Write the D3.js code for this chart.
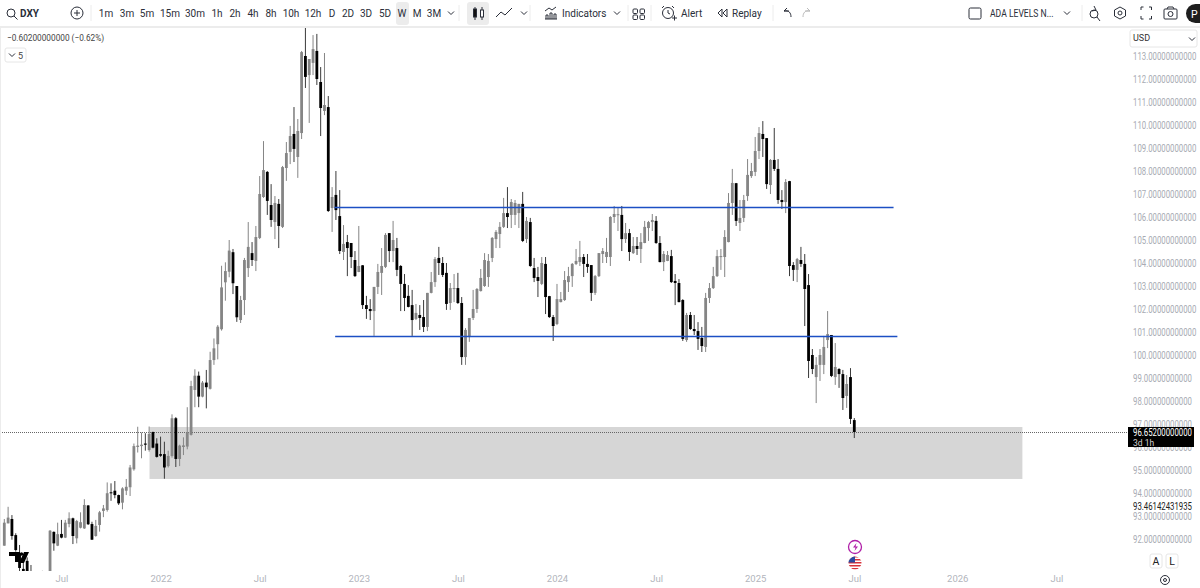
<!DOCTYPE html>
<html><head><meta charset="utf-8">
<script src="https://cdn.jsdelivr.net/npm/d3@7"></script>
<style>html,body{margin:0;padding:0;background:#fff;overflow:hidden}svg{display:block}text{font-family:Roboto,"Noto Sans",sans-serif}</style>
</head><body><div id="c"></div>
<script>
const opens=[91.71,92.68,92.87,92.17,91.39,90.70,91.05,90.40,90.00,89.80,89.90,90.00,90.10,92.31,91.71,92.22,92.06,92.65,92.90,92.03,92.49,92.46,93.46,92.65,92.13,92.61,93.22,93.26,94.03,94.10,93.91,93.58,94.10,94.25,95.03,96.00,96.04,96.15,95.87,96.65,96.15,95.69,95.69,95.17,95.61,97.25,95.48,96.00,96.02,96.53,98.48,99.10,98.19,98.80,98.53,99.78,100.47,101.12,103.16,103.62,104.47,103.00,101.52,102.39,103.78,104.43,104.09,105.09,106.87,107.96,106.52,105.78,106.57,105.57,108.13,108.83,109.61,108.61,109.65,113.00,112.17,112.70,113.22,111.87,110.61,110.78,106.39,106.96,106.04,104.48,104.91,104.87,104.13,103.61,103.90,102.17,102.00,101.91,102.96,103.57,103.83,105.30,104.52,104.65,103.87,103.09,102.57,102.17,101.57,101.74,101.65,101.22,102.70,103.17,104.22,104.00,103.57,102.26,102.87,102.91,102.26,99.91,100.78,101.61,102.00,102.78,103.00,103.39,104.22,105.04,105.26,105.57,106.17,106.09,106.09,106.17,106.57,105.04,105.78,103.78,103.39,103.09,103.96,102.56,101.65,101.35,102.30,102.39,103.17,103.43,103.96,104.04,104.26,103.96,103.91,102.70,103.43,104.39,104.26,104.26,106.00,106.08,106.09,105.04,105.30,104.43,104.74,104.61,104.87,105.52,105.78,105.83,104.87,104.04,104.09,104.30,103.22,103.13,102.39,100.65,101.74,101.13,101.04,100.74,100.35,102.48,102.91,103.43,104.26,104.26,104.91,106.61,107.47,105.74,105.96,106.91,107.78,107.96,108.87,109.61,109.43,107.39,108.48,108.09,106.74,106.65,107.56,103.91,103.70,104.13,103.96,103.04,100.00,99.04,99.57,99.57,100.65,100.87,99.04,99.39,99.17,98.22,99.04,97.17];
const highs=[92.87,93.40,93.04,92.25,91.74,91.01,91.20,90.87,90.40,90.30,90.62,90.40,92.39,92.33,92.71,92.83,92.83,93.16,92.93,92.83,93.16,93.73,93.47,92.75,92.83,93.22,93.48,94.46,94.42,94.52,93.93,94.25,94.61,95.22,96.15,96.88,96.63,96.60,96.89,96.67,96.38,96.45,96.23,95.84,97.42,97.30,96.10,96.42,97.73,98.88,99.38,99.28,98.87,99.35,100.14,100.72,101.30,103.88,104.03,105.00,104.61,103.00,102.57,104.22,105.78,104.91,105.61,107.78,109.30,108.00,107.43,106.91,106.78,108.22,109.26,109.96,110.78,110.26,113.22,114.26,112.87,113.91,113.96,112.52,113.13,111.26,107.30,108.00,107.17,105.65,105.22,104.87,104.52,105.61,103.91,102.57,102.43,102.96,103.96,104.65,105.30,105.30,105.83,105.09,103.91,103.52,103.04,102.83,102.22,102.17,102.39,102.70,103.61,104.26,104.70,104.26,104.00,103.13,103.52,103.57,102.52,101.17,101.61,102.83,102.91,103.74,104.43,104.39,105.13,105.43,105.78,106.83,107.30,106.78,106.74,106.57,107.09,106.00,105.96,104.22,103.83,104.26,104.26,102.57,101.74,103.09,102.74,103.65,103.83,104.00,104.61,104.96,104.39,104.39,103.91,103.48,104.43,104.65,105.09,106.04,106.48,106.39,106.48,105.74,105.48,105.13,105.13,105.30,105.83,105.83,106.13,106.04,105.17,104.52,104.52,104.57,103.52,103.30,102.43,101.83,101.87,101.74,101.43,101.22,102.70,103.13,103.83,104.57,104.61,105.43,107.04,108.09,107.48,106.74,106.96,108.52,108.35,109.48,109.91,110.17,109.43,108.52,109.87,108.52,107.17,107.65,107.57,104.04,104.22,104.70,104.39,103.52,100.26,99.91,100.26,100.83,101.91,100.87,100.52,99.43,99.35,99.13,99.43,97.26];
const lows=[91.71,92.68,91.97,91.45,90.57,90.20,90.10,89.90,89.50,89.20,89.40,89.30,89.80,91.49,91.69,92.03,92.04,92.51,91.78,91.81,92.46,92.44,92.61,91.96,92.10,92.32,92.95,93.19,93.66,93.77,93.48,93.29,93.91,93.87,94.97,95.76,95.51,95.84,95.80,95.94,95.54,95.57,94.62,95.11,95.54,95.13,95.17,95.65,95.90,96.50,97.73,97.73,98.16,97.68,98.50,99.57,99.81,101.06,102.36,103.38,102.65,101.44,101.39,101.74,103.39,103.87,103.65,105.04,106.83,106.09,105.57,105.04,104.65,105.52,107.57,108.30,108.39,107.70,109.39,111.61,110.09,112.17,111.74,109.52,110.43,106.22,105.35,105.87,104.39,104.13,103.43,103.78,103.39,103.60,102.00,101.57,101.52,100.83,102.65,102.61,103.78,104.04,104.04,103.43,101.91,101.91,102.07,100.83,101.52,101.09,101.00,101.04,102.68,102.96,103.48,103.39,101.96,101.96,102.30,102.22,99.57,99.57,100.57,101.52,101.83,102.76,102.96,102.96,104.04,104.65,104.65,105.52,105.52,105.52,105.65,105.52,104.91,104.87,103.83,103.17,102.52,103.04,101.78,101.61,100.61,101.30,102.29,102.35,102.74,102.96,103.91,103.87,103.39,103.57,102.35,102.61,103.39,104.00,104.00,103.87,105.74,105.39,104.52,104.87,104.09,104.39,104.35,104.00,104.86,104.96,105.39,104.83,104.03,103.65,104.08,103.13,102.17,102.29,100.61,100.57,101.09,100.87,100.22,100.13,100.13,102.26,102.87,103.39,103.70,103.39,104.90,106.09,105.61,105.39,105.78,106.70,107.70,107.78,108.52,108.61,107.22,107.00,108.00,106.57,106.35,106.17,103.43,103.22,103.17,103.83,101.26,99.00,99.17,97.91,98.87,99.17,100.30,99.04,98.70,98.57,97.61,97.70,97.00,96.39];
const closes=[92.71,92.93,92.13,91.52,90.74,90.40,90.30,90.10,89.80,89.60,90.10,89.60,92.36,91.81,92.21,92.06,92.71,92.90,92.13,92.78,92.73,93.48,92.64,91.97,92.57,93.16,93.33,93.99,93.99,93.91,93.55,94.20,94.27,95.11,96.04,96.06,96.10,96.10,96.57,95.97,95.57,95.62,95.11,95.61,97.25,95.48,96.06,96.07,96.63,98.65,99.10,98.19,98.80,98.60,99.78,100.29,101.23,102.94,103.65,104.54,103.12,101.64,102.39,104.13,104.70,104.13,105.13,107.00,108.04,106.70,105.87,106.61,105.61,108.17,108.78,109.52,108.96,109.74,113.17,112.09,112.87,113.30,112.00,110.74,110.87,106.26,106.87,106.30,104.52,104.83,104.65,104.26,103.43,103.87,102.17,102.00,101.91,102.96,103.61,103.87,105.22,104.52,105.00,103.70,103.09,102.48,102.09,101.52,101.83,101.61,101.22,102.70,103.17,104.17,104.00,103.48,102.22,102.91,102.91,102.26,99.91,101.09,101.61,102.00,102.87,103.35,104.13,104.09,105.09,105.35,105.57,106.17,106.00,106.65,106.61,106.57,104.96,105.83,103.87,103.35,103.22,104.00,102.52,101.65,101.26,102.43,102.43,103.26,103.43,103.96,104.09,104.26,103.96,103.83,102.70,103.43,104.43,104.52,104.48,106.00,106.13,106.12,105.04,105.30,104.48,104.74,104.61,104.91,105.57,105.78,105.87,104.87,104.04,104.39,104.35,103.17,103.13,102.30,100.70,101.74,101.13,101.04,100.70,100.39,102.48,102.91,103.43,104.30,104.30,105.13,106.61,107.48,105.83,105.96,106.74,107.83,108.00,108.87,109.65,109.39,107.43,108.48,108.09,106.74,106.65,107.52,103.87,103.70,104.17,103.96,102.87,99.74,99.39,99.57,100.00,100.35,100.91,99.09,99.48,99.17,98.13,98.74,97.22,96.652];
const priceTicks=[113,112,111,110,109,108,107,106,105,104,103,102,101,100,99,98,97,96,95,94,93,92];
const timeWeeks=[15,41,67,93,119,145,171,197,223,250,276];
const timeLabels=["Jul","2022","Jul","2023","Jul","2024","Jul","2025","Jul","2026","Jul"];
const zoneTop=96.87, zoneBottom=94.61, zoneStartWeek=38.1, zoneEndWeek=267.1;
const levelLines=[{v:106.41,a:86.6,b:233.3},{v:100.80,a:86.8,b:234.3}];
const lastPrice=96.652, magnet=93.46142431935;
const intervals=[["1m",106],["3m",127],["5m",147],["15m",170],["30m",195],["1h",217],["2h",235],["4h",253],["8h",271],["10h",291],["12h",313],["D",332],["2D",348],["3D",366],["5D",385],["W",402],["M",417],["3M",434]];

const W=1200,H=588,paneR=1128,paneT=28,paneB=571;
const x=d3.scaleLinear().domain([0,223]).range([4.3,854.3]);
const y=d3.scaleLinear().domain([113,92]).range([56,539]);
const svg=d3.select("#c").append("svg").attr("width",W).attr("height",H);
svg.append("defs").append("clipPath").attr("id","pane").append("rect").attr("x",0).attr("y",paneT).attr("width",paneR).attr("height",paneB-paneT);
const pane=svg.append("g").attr("clip-path","url(#pane)");
pane.append("rect").attr("x",x(zoneStartWeek)).attr("width",x(zoneEndWeek)-x(zoneStartWeek)).attr("y",y(zoneTop)).attr("height",y(zoneBottom)-y(zoneTop)).attr("fill","#d6d6d6");
pane.append("line").attr("x1",0).attr("x2",paneR).attr("y1",y(lastPrice)+.5).attr("y2",y(lastPrice)+.5).attr("stroke","#666").attr("stroke-dasharray","1 1");
const idx=d3.range(opens.length);
const col=i=>closes[i]>=opens[i]?"#858585":"#000";
pane.selectAll("line.w").data(idx).join("line").attr("class","w").attr("x1",x).attr("x2",x).attr("y1",i=>y(highs[i])).attr("y2",i=>y(lows[i])).attr("stroke",i=>closes[i]>=opens[i]?"#858585":"#3a3a3a").attr("stroke-width",1);
pane.selectAll("rect.b").data(idx).join("rect").attr("class","b").attr("x",i=>x(i)-1.4).attr("width",2.8).attr("y",i=>y(Math.max(opens[i],closes[i]))).attr("height",i=>Math.max(1,Math.abs(y(opens[i])-y(closes[i])))).attr("fill",col);
pane.selectAll("line.l").data(levelLines).join("line").attr("class","l").attr("x1",d=>x(d.a)).attr("x2",d=>x(d.b)).attr("y1",d=>y(d.v)).attr("y2",d=>y(d.v)).attr("stroke","#1c4fc4").attr("stroke-width",1.5);

// TradingView logo over the candles
const logo=svg.append("g").attr("fill","#000");
logo.append("path").attr("d","M9 552h11v10h-5v-6h-6z");
logo.append("circle").attr("cx",21.5).attr("cy",554).attr("r",1.7);
logo.append("path").attr("d","M24 552h5l-5 11h-5z");

// axes
const yAxis=d3.axisRight(y).tickValues(priceTicks).tickSize(0).tickPadding(0).tickFormat(d=>d.toFixed(11));
const gy=svg.append("g").attr("transform","translate(1133,0)").call(yAxis);
gy.select(".domain").remove();
gy.selectAll("text").attr("fill","#a8abb3").attr("transform","scale(.78,1)").style("font-size","10px").style("font-family","Roboto");
const xAxis=d3.axisBottom(x).tickValues(timeWeeks).tickSize(0).tickPadding(0).tickFormat((d,i)=>timeLabels[i]);
const gx=svg.append("g").attr("transform","translate(0,575)").call(xAxis);
gx.select(".domain").remove();
gx.selectAll("text").attr("fill","#b2b5bc").style("font-size","9.5px").style("font-family","Roboto");

// last price tag
const tag=svg.append("g");
tag.append("rect").attr("x",1128).attr("y",427).attr("width",66).attr("height",20).attr("fill","#000");
const t=(s,px,py,o={})=>{const e=svg.append("text").text(s).attr("fill",o.c||"#2a2e39").attr("text-anchor",o.a||"start").style("font-size",(o.s||10.5)+"px").style("font-family","Roboto").style("font-weight",o.w||400);
  if(o.sx)e.attr("transform",`translate(${px},${py}) scale(${o.sx},1)`);else e.attr("x",px).attr("y",py);return e;};
t(lastPrice.toFixed(11),1133,436,{c:"#fff",s:10,sx:.78});
t("3d 1h",1133,445.7,{c:"#d0d0d0",s:8.5});
t(magnet.toFixed(11),1133,510,{c:"#222",s:10,sx:.78});

// toolbar
svg.append("rect").attr("x",0).attr("y",26).attr("width",W).attr("height",2).attr("fill","#ececec");
svg.append("rect").attr("x",0).attr("y",28).attr("width",1).attr("height",H-28).attr("fill","#ececec");
svg.append("rect").attr("x",396).attr("y",2).attr("width",13).attr("height",23).attr("rx",3).attr("fill","#ececec");
svg.append("rect").attr("x",467).attr("y",2).attr("width",22).attr("height",23).attr("rx",3).attr("fill","#ececec");
intervals.forEach(([s,px])=>t(s,px,17,{a:"middle",s:10,c:"#2a2e39"}));
t("DXY",20,17,{w:700,s:10});
t("Indicators",562,17,{s:10});
t("Alert",681,17,{s:10});
t("Replay",732,17,{s:10});
t("ADA LEVELS N...",990,17,{s:10,sx:.86});
t("−0.60200000000 (−0.62%)",7,41,{s:9.5,c:"#444",sx:.87});
t("5",18,58.5,{s:9,c:"#444"});
t("USD",1133,41,{s:9,c:"#333"});
t("A",1156,565,{s:10.5,a:"middle",c:"#222"});
t("L",1172,565,{s:10.5,a:"middle",c:"#222"});

const ink=svg.append("g").attr("fill","none").attr("stroke","#2a2e39").attr("stroke-width",1);
const p=d=>ink.append("path").attr("d",d);
const chev=(cx,cy)=>p(`M${cx-3} ${cy-1.5}l3 3l3-3`);
ink.append("circle").attr("cx",11).attr("cy",13).attr("r",4);p("M14 16l3.5 3.5");
ink.append("circle").attr("cx",77).attr("cy",13).attr("r",6);p("M74 13h6M77 10v6");
[91,459,530,628,651,773,1082].forEach(sx=>svg.append("line").attr("x1",sx).attr("x2",sx).attr("y1",5).attr("y2",21).attr("stroke","#ececec"));
chev(451,13);chev(524,13);chev(617,13);chev(1067,13);
p("M475 7v13M482 7v13");ink.append("rect").attr("x",473.5).attr("y",9).attr("width",3).attr("height",8).attr("fill","#111");ink.append("rect").attr("x",480.5).attr("y",10).attr("width",3).attr("height",7).attr("fill","#fff");
p("M496 17l5-5l4 3l7-7");
p("M545 19h12M546 19v-4h2v4M550 19v-6h2v6M554 19v-5h2v5M545 11l4-3l3 2l4-3");
[[633,9],[640,9],[633,15],[640,15]].forEach(([a,b])=>ink.append("rect").attr("x",a).attr("y",b).attr("width",4.5).attr("height",4.5).attr("rx",1));
ink.append("circle").attr("cx",668).attr("cy",13).attr("r",5.5);p("M668 10v3l2 1M664 6l-2 2M672 6l2 2M672 18h5M674.5 15.5v5");
p("M722 9l-4 4l4 4zM727 9l-4 4l4 4z");
p("M789 11h-5l3-3M784 11c5-1 7 2 7 6");
svg.append("path").attr("d","M805 11h5l-3-3M810 11c-5-1-7 2-7 6").attr("fill","none").attr("stroke","#bbb");
ink.append("rect").attr("x",969).attr("y",8).attr("width",12).attr("height",11).attr("rx",1.5);
ink.append("circle").attr("cx",1094).attr("cy",14).attr("r",4);p("M1097 17l3 4M1094 6l2 4l-4 1");
p("M1120 7l5.5 3v6l-5.5 3l-5.5-3v-6z");ink.append("circle").attr("cx",1120).attr("cy",13).attr("r",2);
p("M1141 10v-3h2.5M1149 7h2.5v3M1151.5 16v3h-2.5M1143.5 19h-2.5v-3");
ink.append("rect").attr("x",1164).attr("y",9).attr("width",13).attr("height",10).attr("rx",1);ink.append("circle").attr("cx",1170.5).attr("cy",14).attr("r",2.5);p("M1167 9l1-2h5l1 2");
svg.append("rect").attr("x",1186).attr("y",4).attr("width",30).attr("height",19).attr("rx",9.5).attr("fill","#1e1e1e");
t("P",1191,17.5,{c:"#fff",s:10.5});
// legend button, currency box, scale buttons
const box=(a,b,w,h)=>svg.append("rect").attr("x",a).attr("y",b).attr("width",w).attr("height",h).attr("rx",2).attr("fill","none").attr("stroke","#e6e6e6");
box(5,48,21,14);box(1130,30,67,17);box(1150,554,12,14);box(1166,554,12,14);
chev(12,55);chev(1192,39);
ink.append("circle").attr("cx",1165).attr("cy",580).attr("r",4.5);ink.append("circle").attr("cx",1165).attr("cy",580).attr("r",1.5);

// event markers
const marks=svg.append("g");
marks.append("circle").attr("cx",855).attr("cy",547).attr("r",6.5).attr("fill","#fff").attr("stroke","#b01fa8").attr("stroke-width",1.3);
marks.append("path").attr("d","M856.5 543l-3.5 4.5h2.5l-1 3.5l3.5-4.5h-2.5z").attr("fill","#b01fa8");
const cp=svg.select("defs").append("clipPath").attr("id","flag");cp.append("circle").attr("cx",855).attr("cy",563).attr("r",6.5);
const fl=marks.append("g").attr("clip-path","url(#flag)");
fl.append("rect").attr("x",848).attr("y",556).attr("width",14).attr("height",14).attr("fill","#fff");
[556,559,562,565,568].forEach(s=>fl.append("rect").attr("x",848).attr("y",s).attr("width",14).attr("height",1.5).attr("fill","#d8313a"));
fl.append("rect").attr("x",848).attr("y",556).attr("width",7).attr("height",6.5).attr("fill","#2a4aa0");
</script></body></html>
